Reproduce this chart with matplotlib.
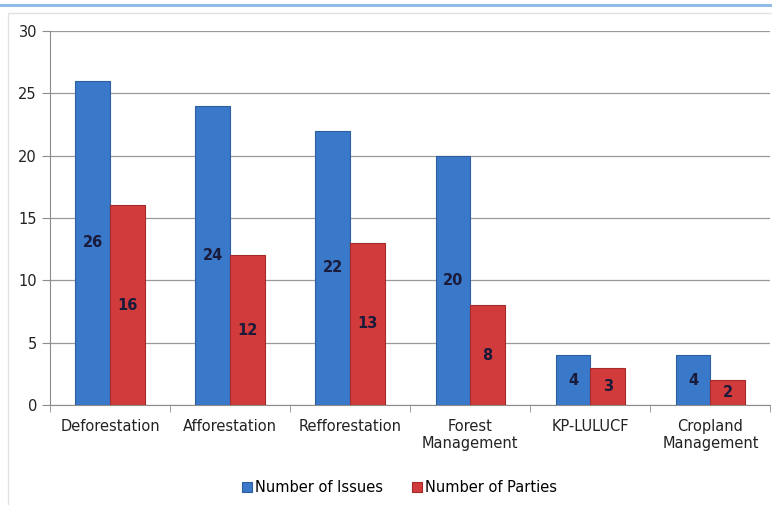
import numpy as np
import matplotlib.pyplot as plt
from matplotlib.patches import Rectangle
from matplotlib.lines import Line2D

# data
categories = ["Deforestation", "Afforestation", "Refforestation", "Forest\nManagement",
              "KP-LULUCF", "Cropland\nManagement"]
issues = [26, 24, 22, 20, 4, 4]
parties = [16, 12, 13, 8, 3, 2]

blue = "#3a78c9"
red = "#d23b3b"
label_col = "#1a1a3a"

fig = plt.figure(figsize=(7.72, 5.05), dpi=100)
ax = fig.add_axes([0.065, 0.198, 0.933, 0.741])

# thin frame around the chart area + blue line at the top
fig.patches.append(Rectangle((0.011, -0.01), 1.0, 0.985, transform=fig.transFigure,
                             fill=False, edgecolor="#e2e2e2", linewidth=1))
fig.lines.append(Line2D([0, 1], [0.99, 0.99], transform=fig.transFigure,
                        color="#8ab8e6", linewidth=2))

x = np.arange(len(categories))
w = 0.29
b1 = ax.bar(x - w / 2, issues, w, color=blue, edgecolor="#2d5f9f", linewidth=0.8,
            label="Number of Issues", zorder=3)
b2 = ax.bar(x + w / 2, parties, w, color=red, edgecolor="#a52a2a", linewidth=0.8,
            label="Number of Parties", zorder=3)

for bars in (b1, b2):
    for r in bars:
        h = r.get_height()
        ax.text(r.get_x() + r.get_width() / 2, h / 2, str(int(h)), ha="center",
                va="center", fontsize=10.5, fontweight="bold", color=label_col, zorder=4)

ax.set_xlim(-0.5, len(categories) - 0.5)
ax.set_ylim(0, 30)
ax.set_yticks(range(0, 31, 5))
ax.grid(axis="y", color="#999999", linewidth=0.9, zorder=0)
ax.set_axisbelow(True)

ax.set_xticks(x)
ax.set_xticklabels(categories, fontsize=10.5, color="#222222")
ax.set_xticks(np.arange(-0.5, len(categories)), minor=True)
ax.tick_params(axis="x", which="major", length=0, pad=10)
ax.tick_params(axis="x", which="minor", length=5, color="#8c8c8c")
ax.tick_params(axis="y", length=6, color="#8c8c8c", labelsize=10.5, labelcolor="#222222")

for s in ("top", "right"):
    ax.spines[s].set_visible(False)
for s in ("left", "bottom"):
    ax.spines[s].set_color("#8c8c8c")

ax.legend(loc="upper center", bbox_to_anchor=(0.485, -0.165), ncol=2, frameon=False,
          fontsize=10.5, handlelength=0.7, handleheight=0.7, handletextpad=0.2,
          columnspacing=2.0)

plt.savefig("out.png", dpi=100)
